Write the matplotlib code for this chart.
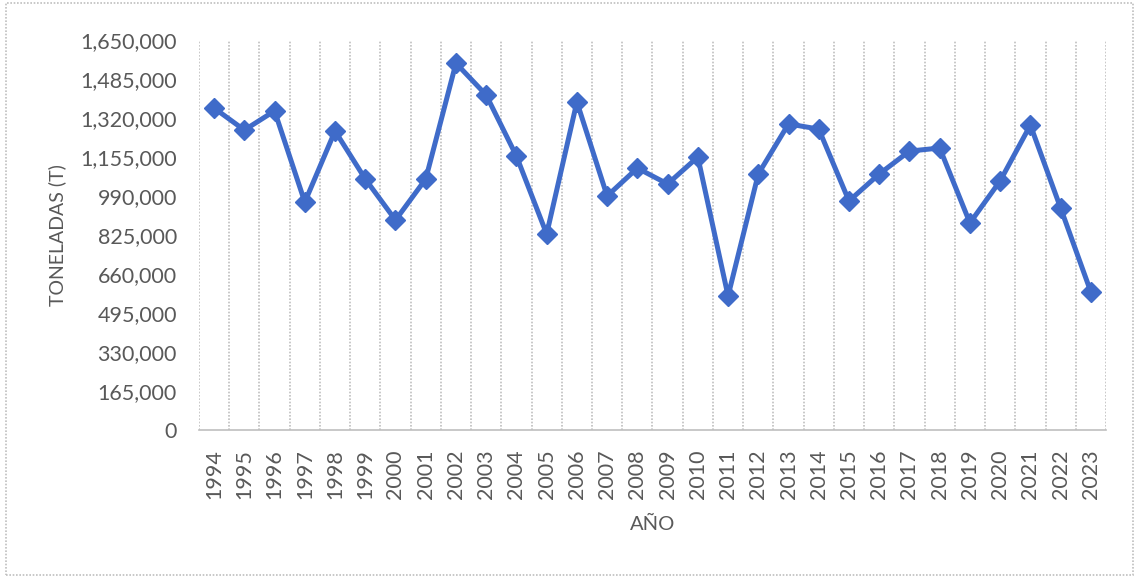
import matplotlib
matplotlib.use("Agg")
import matplotlib.pyplot as plt
from matplotlib.ticker import FuncFormatter, MultipleLocator
from matplotlib.patches import Rectangle

years = [str(y) for y in range(1994, 2024)]
toneladas = [1362000, 1269000, 1350000, 964000, 1265000, 1062000, 888000, 1062000,
             1552000, 1417000, 1159000, 829000, 1388000, 990000, 1108000, 1041000,
             1155000, 567000, 1083000, 1295000, 1273000, 969000, 1083000, 1180000,
             1193000, 876000, 1054000, 1290000, 939000, 584000]

plt.rcParams['font.family'] = ['Lato', 'DejaVu Sans']
gray = '#595959'

fig = plt.figure(figsize=(11.39, 5.84), dpi=100)
ax = fig.add_axes([0.1747, 0.2637, 0.7963, 0.6678])

x = list(range(len(years)))
ax.plot(x, toneladas, color='#3F6BC9', lw=3.6, marker='D', markersize=10,
        markerfacecolor='#3F6BC9', markeredgecolor='#3F6BC9', zorder=3)

ax.set_xlim(-0.5, len(years) - 0.5)
ax.set_ylim(0, 1650000)
ax.yaxis.set_major_locator(MultipleLocator(165000))
ax.yaxis.set_major_formatter(FuncFormatter(lambda v, p: f"{int(round(v)):,}"))
ax.set_xticks(x)
ax.set_xticklabels(years, rotation=90, fontsize=15.5, color=gray)
ax.tick_params(axis='y', labelsize=15.5, colors=gray, length=0, pad=16)
ax.tick_params(axis='x', length=0, pad=14)

for b in range(len(years) + 1):
    ax.axvline(b - 0.5, color='#BFBFBF', lw=1.2, ls=(0, (1, 1)), zorder=1)

for s in ['left', 'right', 'top']:
    ax.spines[s].set_visible(False)
ax.spines['bottom'].set_color('#BFBFBF')
ax.spines['bottom'].set_linestyle((0, (1, 1)))
ax.spines['bottom'].set_linewidth(1.2)

ax.set_ylabel('TONELADAS (T)', fontsize=14, color=gray, labelpad=10)
ax.set_xlabel('AÑO', fontsize=14.5, color=gray, labelpad=12)

fig.patches.append(Rectangle((0.005, 0.015), 0.99, 0.98, transform=fig.transFigure,
                             fill=False, edgecolor='#BFBFBF', lw=1.2, ls=(0, (1, 1))))

fig.savefig('out.png', dpi=100)
